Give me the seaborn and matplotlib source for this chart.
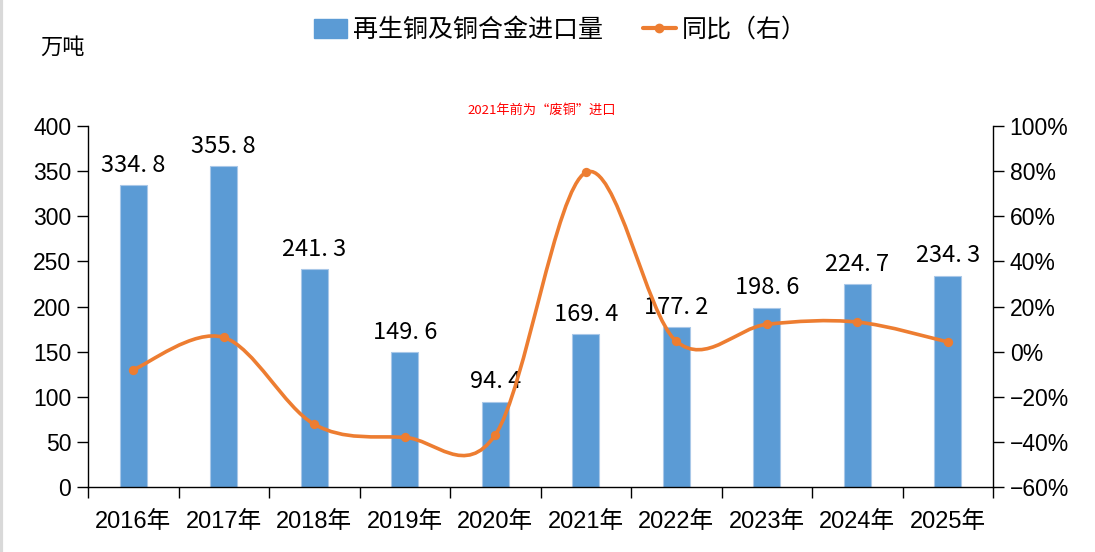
import numpy as np
import pandas as pd
import matplotlib
matplotlib.use("Agg")
import matplotlib.pyplot as plt
import seaborn as sns
from matplotlib.path import Path
from matplotlib.patches import PathPatch, Patch
from matplotlib.lines import Line2D
from matplotlib.ticker import FuncFormatter, FixedLocator

years = ["2016年", "2017年", "2018年", "2019年", "2020年",
         "2021年", "2022年", "2023年", "2024年", "2025年"]
imports = [334.8, 355.8, 241.3, 149.6, 94.4, 169.4, 177.2, 198.6, 224.7, 234.3]
yoy = [-8.0, 6.3, -32.2, -38.0, -36.9, 79.4, 4.6, 12.1, 13.1, 4.3]

bar_name = "再生铜及铜合金进口量"
line_name = "同比（右）"
unit_label = "万吨"
note = "2021年前为“废铜”进口"

blue = "#5B9BD5"
orange = "#ED7D31"

sns.set_theme(style="white")
plt.rcParams['font.family'] = ['Liberation Sans', 'Noto Sans CJK SC', 'DejaVu Sans']
plt.rcParams['axes.unicode_minus'] = True
plt.rcParams['text.color'] = 'black'
plt.rcParams['xtick.color'] = 'black'
plt.rcParams['ytick.color'] = 'black'
plt.rcParams['xtick.labelcolor'] = 'black'
plt.rcParams['ytick.labelcolor'] = 'black'

df = pd.DataFrame({"year": years, "imports": imports, "yoy": yoy})

fig = plt.figure(figsize=(10.95, 5.52), dpi=100)
ax = fig.add_axes([88 / 1095, 1 - 487 / 552, (993 - 88) / 1095, (487 - 126) / 552])

sns.barplot(data=df, x="year", y="imports", color=blue, width=0.3,
            saturation=1, ax=ax, edgecolor="#a9c8e8", linewidth=0.8)
labels = [f"{v:.1f}".replace(".", ". ") for v in imports]
ax.bar_label(ax.containers[0], labels=labels, padding=6, fontsize=17,
             family=['Noto Sans CJK SC'], color='black')

ax.set_ylim(0, 400)
ax.set_yticks(np.arange(0, 401, 50))
ax.set_xlim(-0.5, len(years) - 0.5)
ax.set_xlabel("")
ax.set_ylabel("")

# category boundary ticks on x
ax.tick_params(axis="x", which="major", length=0, pad=17, labelsize=17)
ax.xaxis.set_minor_locator(FixedLocator(np.arange(-0.5, len(years), 1)))
ax.tick_params(axis="x", which="minor", length=8, width=1, color="black", direction="out", bottom=True)
ax.tick_params(axis="y", length=8, width=1, color="black", direction="out", left=True, labelsize=16.5, pad=4)

for s in ["left", "bottom"]:
    ax.spines[s].set_color("black")
    ax.spines[s].set_linewidth(1)
ax.spines["top"].set_visible(False)
ax.spines["right"].set_visible(False)

ax2 = ax.twinx()
ax2.set_ylim(-60, 100)
ax2.set_yticks(np.arange(-60, 101, 20))
ax2.yaxis.set_major_formatter(FuncFormatter(lambda v, p: f"{v:.0f}%".replace("-", "\u2212")))
ax2.tick_params(axis="y", length=8, width=1, color="black", direction="out", right=True, labelsize=16.5, pad=4)
for s in ["top", "left", "bottom"]:
    ax2.spines[s].set_visible(False)
ax2.spines["right"].set_color("black")
ax2.spines["right"].set_linewidth(1)
ax2.grid(False)
ax.grid(False)

# smoothed line (Catmull-Rom as cubic Bezier) through the data points
xs = np.arange(len(yoy), dtype=float)
pts = np.column_stack([xs, np.array(yoy, dtype=float)])
verts = [pts[0]]
codes = [Path.MOVETO]
n = len(pts)
for i in range(n - 1):
    p0 = pts[max(i - 1, 0)]
    p1 = pts[i]
    p2 = pts[i + 1]
    p3 = pts[min(i + 2, n - 1)]
    c1 = p1 + (p2 - p0) / 6
    c2 = p2 - (p3 - p1) / 6
    verts += [c1, c2, p2]
    codes += [Path.CURVE4] * 3
ax2.add_patch(PathPatch(Path(verts, codes), facecolor="none", edgecolor=orange,
                        linewidth=2.6, capstyle="round", zorder=3))
sns.scatterplot(x=xs, y=yoy, ax=ax2, color=orange, s=45, edgecolor=orange,
                linewidth=0, zorder=4, legend=False)

handles = [Patch(facecolor=blue, edgecolor=blue),
           Line2D([0], [0], color=orange, lw=3, marker="o", markersize=6)]
fig.legend(handles, [bar_name, line_name], loc="upper center",
           bbox_to_anchor=(0.512, 1.01), ncol=2, frameon=False,
           prop={"family": ["Noto Sans CJK SC"], "size": 18},
           handlelength=1.3, handleheight=0.8, columnspacing=1.6, handletextpad=0.25)

fig.text(40 / 1095, 1 - 47 / 552, unit_label, fontsize=16, va="center", ha="left",
         family=["Noto Sans CJK SC"])
fig.text(542 / 1095, 1 - 110 / 552, note, fontsize=9.5, color="red", va="center",
         ha="center", family=["Noto Sans CJK SC"])

fig.add_artist(Line2D([0.001, 0.001], [0, 1], transform=fig.transFigure, color="#d9d9d9", lw=3))

fig.savefig("out.png", dpi=100)
